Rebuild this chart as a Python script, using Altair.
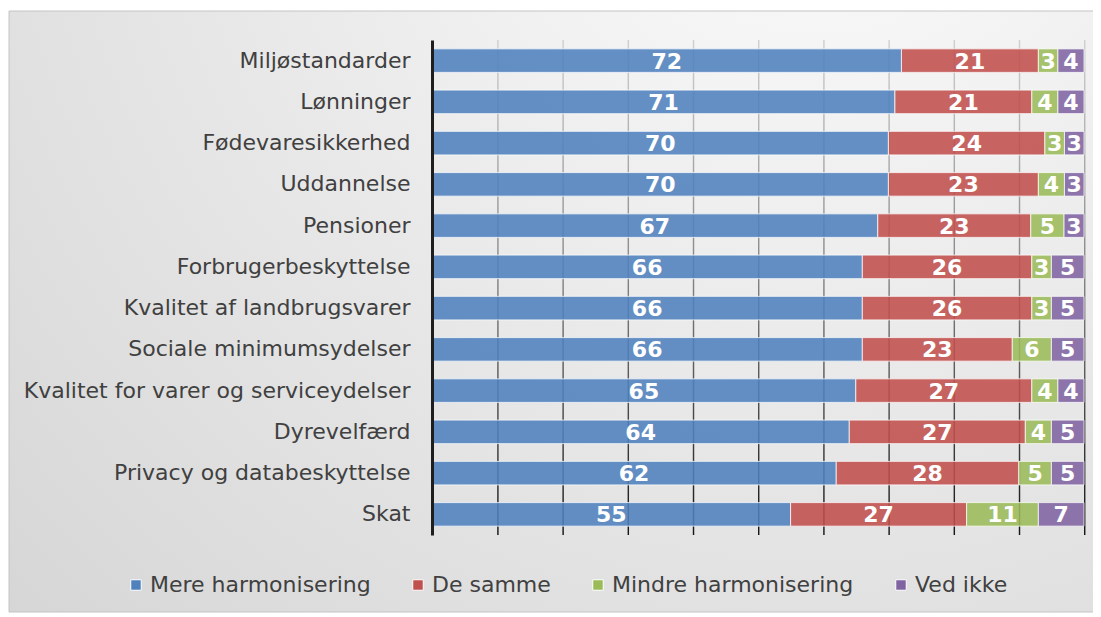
import altair as alt
import pandas as pd

categories = [
    "Miljøstandarder", "Lønninger", "Fødevaresikkerhed", "Uddannelse", "Pensioner",
    "Forbrugerbeskyttelse", "Kvalitet af landbrugsvarer", "Sociale minimumsydelser",
    "Kvalitet for varer og serviceydelser", "Dyrevelfærd", "Privacy og databeskyttelse", "Skat",
]
mere = [72, 71, 70, 70, 67, 66, 66, 66, 65, 64, 62, 55]
samme = [21, 21, 24, 23, 23, 26, 26, 23, 27, 27, 28, 27]
mindre = [3, 4, 3, 4, 5, 3, 3, 6, 4, 4, 5, 11]
ved_ikke = [4, 4, 3, 3, 3, 5, 5, 5, 4, 5, 5, 7]
series = ["Mere harmonisering", "De samme", "Mindre harmonisering", "Ved ikke"]
colors = ["#4F81BD", "#C0504D", "#9BBB59", "#8064A2"]
grid_ticks = [0.1, 0.2, 0.3, 0.4, 0.5, 0.6, 0.7, 0.8, 0.9, 1.0]

rows = []
for i, c in enumerate(categories):
    for j, vals in enumerate([mere, samme, mindre, ved_ikke]):
        rows.append({"cat": c, "series": series[j], "order": j, "value": vals[i]})
df = pd.DataFrame(rows)

W, H = 652, 495
FONT = "DejaVu Sans"

xs = alt.Scale(domain=[0, 1], nice=False, zero=True)
y_axis = alt.Axis(
    title=None, domainColor="#1e1e1e", domainWidth=3, ticks=False, labelPadding=22,
    labelFontSize=22, labelColor="#404040", labelFont=FONT, grid=False, zindex=2,
    labelLimit=0,
)
y_enc = alt.Y("cat:N", sort=categories,
              scale=alt.Scale(paddingInner=0.43, paddingOuter=0.215), axis=y_axis)

bg = alt.Chart(pd.DataFrame({"k": [0]})).mark_rect(
    fill=alt.RadialGradient(
        gradient="radial", x1=0.72, y1=0.05, r1=0, x2=0.72, y2=0.05, r2=1.2,
        stops=[alt.GradientStop(color="#fdfdfd", offset=0),
               alt.GradientStop(color="#cfcfcf", offset=1)],
    ),
    stroke="#c4c4c4", strokeWidth=1,
).encode(x=alt.value(-423), x2=alt.value(700), y=alt.value(-29), y2=alt.value(572))

grid = alt.Chart(pd.DataFrame({"g": grid_ticks})).transform_calculate(
    g2="datum.g + 0.0022"
).mark_rect(
    fill=alt.LinearGradient(
        gradient="linear", x1=0, y1=0, x2=0, y2=1,
        stops=[alt.GradientStop(color="#d0d0d0", offset=0),
               alt.GradientStop(color="#8a8a8a", offset=0.45),
               alt.GradientStop(color="#151515", offset=1)],
    )
).encode(x=alt.X("g:Q", scale=xs, axis=None), x2="g2:Q")

base = alt.Chart(df).transform_stack(
    stack="value", groupby=["cat"], as_=["x0", "x1"], offset="normalize",
    sort=[alt.SortField("order", order="ascending")],
).transform_calculate(mid="(datum.x0 + datum.x1) / 2")

bars = base.mark_bar(fillOpacity=0.88, stroke="#ffffff", strokeWidth=1, strokeOpacity=0.75).encode(
    x=alt.X("x0:Q", scale=xs, axis=None),
    x2="x1:Q",
    y=y_enc,
    color=alt.Color(
        "series:N", scale=alt.Scale(domain=series, range=colors),
        legend=alt.Legend(
            title=None, orient="none", legendX=-307, legendY=534, direction="horizontal",
            symbolType="square", symbolSize=110, symbolStrokeColor="#ffffff", symbolStrokeWidth=1,
            labelFontSize=22, labelFont=FONT, labelColor="#404040", labelOffset=3,
            columnPadding=36, labelLimit=0,
        ),
    ),
)

text = base.mark_text(color="white", font=FONT, fontWeight="bold", fontSize=22, dy=1).encode(
    x=alt.X("mid:Q", scale=xs, axis=None),
    y=alt.Y("cat:N", sort=categories, axis=y_axis),
    text="value:Q",
)

chart = alt.layer(bg, grid, bars, text).properties(
    width=W, height=H,
    padding={"left": 424, "top": 32, "right": 9, "bottom": 78},
    autosize=alt.AutoSizeParams(type="none"),
).configure_view(stroke=None).configure(background="#ffffff")

chart.save("out.html", embed_options={"renderer": "svg", "actions": False})
